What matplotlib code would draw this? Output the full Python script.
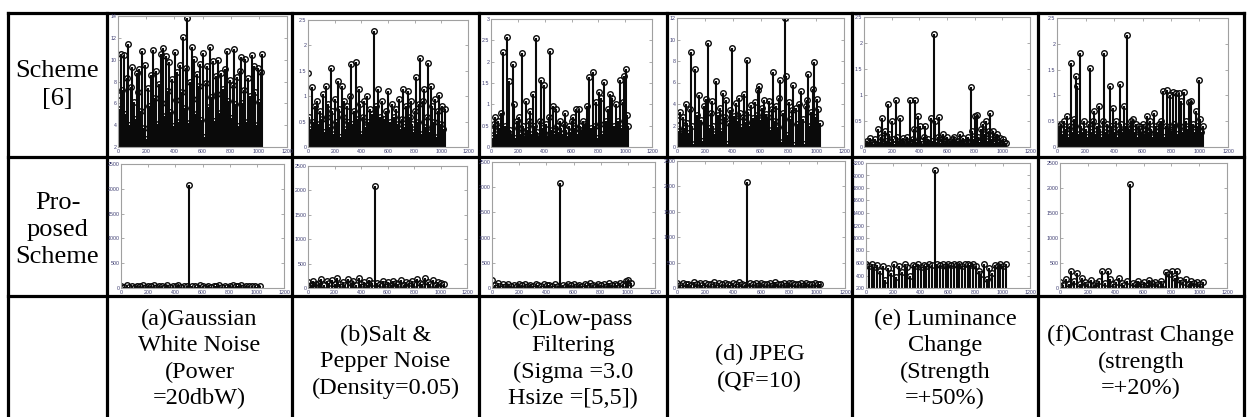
import numpy as np
import matplotlib.pyplot as plt
from matplotlib.ticker import FormatStrFormatter

# ---- data (values at ~103 / 52 evenly spaced sample indices, 1..1024) ----
scheme6_a = [6.8, 5.5, 10.5, 7.2, 10.4, 5.0, 8.3, 11.4, 4.0, 7.5,
             9.3, 6.1, 4.6, 8.8, 7.0, 9.1, 5.3, 10.8, 3.7, 9.5,
             2.7, 7.4, 5.8, 8.6, 4.4, 10.9, 6.5, 9.0, 4.1, 7.8,
             10.5, 6.0, 11.1, 4.8, 10.3, 7.1, 9.8, 5.2, 8.2, 3.9,
             10.7, 6.3, 8.9, 4.3, 9.5, 7.0, 12.1, 5.6, 9.2, 13.8,
             4.2, 8.0, 11.2, 6.4, 10.1, 5.0, 8.7, 7.6, 9.6, 4.5,
             10.6, 2.9, 7.9, 9.4, 5.7, 11.2, 6.6, 9.9, 4.4, 8.5,
             6.9, 10.0, 5.1, 8.8, 7.3, 4.0, 9.1, 10.8, 6.2, 8.1,
             4.7, 7.7, 11.0, 5.9, 8.4, 3.9, 9.0, 10.2, 6.0, 7.2,
             10.1, 4.3, 8.3, 6.7, 3.8, 10.4, 9.4, 7.0, 4.0, 9.2,
             6.1, 8.9, 10.5]
scheme6_b = [1.45, 0.6, 0.35, 1.18, 0.5, 0.8, 0.15, 0.9, 0.45, 0.7,
             0.55, 1.05, 0.3, 1.2, 0.6, 0.85, 0.4, 1.55, 0.7, 0.25,
             0.95, 0.5, 1.3, 0.75, 0.2, 1.2, 0.6, 0.9, 0.35, 0.8,
             0.5, 1.0, 1.63, 0.45, 0.7, 0.3, 1.68, 0.55, 1.15, 0.85,
             0.25, 0.6, 0.9, 0.4, 1.0, 0.5, 0.75, 0.3, 0.65, 2.28,
             0.45, 0.8, 1.15, 0.35, 0.6, 0.9, 0.25, 0.55, 0.7, 0.4,
             1.1, 0.5, 0.3, 0.85, 0.6, 0.2, 0.75, 0.45, 0.95, 0.35,
             0.55, 1.15, 0.4, 0.8, 0.25, 1.1, 0.6, 0.9, 0.45, 0.3,
             0.7, 1.38, 0.5, 0.85, 1.75, 0.25, 0.9, 1.15, 0.4, 0.6,
             1.65, 0.3, 1.2, 0.8, 0.5, 0.95, 0.2, 0.7, 1.03, 0.45,
             0.8, 0.35, 0.75]
scheme6_c = [0.4, 0.2, 0.55, 0.7, 0.3, 0.6, 0.45, 0.8, 0.25, 2.23,
             0.5, 0.35, 2.57, 1.55, 0.4, 0.3, 1.95, 1.0, 0.2, 0.6,
             0.45, 0.7, 0.3, 2.2, 0.5, 0.25, 1.07, 0.4, 0.6, 0.85,
             0.3, 1.25, 0.5, 2.55, 0.35, 0.25, 0.6, 1.57, 0.45, 1.45,
             0.3, 0.55, 0.25, 0.7, 2.25, 0.4, 0.97, 0.3, 0.9, 0.5,
             0.35, 0.6, 0.45, 0.3, 0.55, 0.8, 0.4, 0.25, 0.5, 0.35,
             0.6, 0.7, 0.45, 0.9, 0.3, 0.9, 0.5, 0.4, 0.6, 0.35,
             0.55, 0.95, 0.3, 1.63, 0.45, 0.25, 1.75, 0.5, 1.05, 0.2,
             1.3, 0.55, 1.15, 0.3, 1.53, 0.6, 0.25, 0.9, 1.25, 0.4,
             1.15, 0.5, 0.3, 1.0, 0.6, 0.25, 1.57, 0.45, 1.05, 1.67,
             1.83, 0.75, 0.5]
scheme6_d = [2.5, 1.5, 3.3, 1.2, 2.8, 1.8, 4.0, 2.2, 1.3, 3.5,
             8.8, 2.0, 0.3, 7.3, 3.0, 1.5, 4.8, 2.5, 0.6, 3.8,
             2.2, 4.5, 9.7, 1.8, 3.2, 4.3, 2.0, 1.2, 6.1, 3.0,
             2.4, 3.6, 1.5, 5.0, 2.8, 4.4, 0.3, 2.2, 3.4, 9.2,
             1.8, 2.9, 4.1, 2.4, 4.6, 3.2, 1.9, 2.8, 4.9, 2.3,
             8.1, 3.3, 2.0, 3.9, 2.7, 1.8, 4.2, 3.0, 5.3, 5.7,
             2.5, 3.6, 4.4, 2.2, 3.1, 2.8, 4.3, 1.6, 3.5, 7.0,
             2.4, 3.8, 1.9, 4.6, 6.2, 0.5, 3.2, 12.0, 6.6, 1.1,
             4.2, 2.6, 3.4, 5.8, 0.2, 3.6, 2.1, 4.0, 1.2, 5.2,
             2.6, 0.3, 3.8, 4.4, 6.8, 2.0, 3.3, 5.4, 7.9, 2.8,
             4.5, 3.5, 2.2]
scheme6_e = [0.08, 0.05, 0.12, 0.04, 0.18, 0.07, 0.1, 0.05, 0.15, 0.06,
             0.35, 0.1, 0.2, 0.55, 0.08, 0.3, 0.12, 0.82, 0.25, 0.1,
             0.5, 0.15, 0.06, 0.9, 0.2, 0.12, 0.55, 0.08, 0.18, 0.1,
             0.05, 0.2, 0.12, 0.9, 0.08, 0.15, 0.35, 0.9, 0.1, 0.6,
             0.4, 0.12, 0.06, 0.2, 0.4, 0.1, 0.15, 0.08, 0.55, 0.12,
             2.18, 0.5, 0.1, 0.2, 0.58, 0.08, 0.15, 0.25, 0.06, 0.12,
             0.2, 0.05, 0.1, 0.08, 0.15, 0.2, 0.06, 0.1, 0.12, 0.25,
             0.08, 0.18, 0.1, 0.05, 0.12, 0.2, 0.08, 1.15, 0.3, 0.15,
             0.6, 0.62, 0.2, 0.1, 0.35, 0.18, 0.45, 0.25, 0.5, 0.12,
             0.3, 0.65, 0.15, 0.3, 0.08, 0.2, 0.25, 0.1, 0.18, 0.06,
             0.15, 0.1, 0.08]
scheme6_f = [0.3, 0.4, 0.15, 0.45, 0.25, 0.5, 0.35, 0.6, 0.2, 0.4,
             1.62, 0.3, 0.55, 1.38, 1.18, 0.25, 1.83, 0.4, 0.3, 0.5,
             0.35, 0.2, 0.45, 1.53, 0.3, 0.5, 0.7, 0.25, 0.4, 0.8,
             0.35, 0.2, 0.5, 1.83, 0.3, 0.45, 0.25, 1.18, 0.4, 0.75,
             0.3, 0.5, 0.2, 0.35, 1.23, 0.45, 0.3, 0.8, 0.4, 2.18,
             0.35, 0.25, 0.5, 0.55, 0.3, 0.45, 0.2, 0.4, 0.35, 0.3,
             0.45, 0.25, 0.4, 0.6, 0.3, 0.5, 0.35, 0.2, 0.65, 0.4,
             0.3, 0.45, 0.25, 0.5, 1.08, 0.2, 0.4, 1.1, 0.35, 1.0,
             0.3, 1.07, 0.45, 1.05, 0.25, 1.05, 0.4, 0.9, 0.3, 1.07,
             0.5, 0.35, 0.88, 0.2, 0.9, 0.45, 0.3, 0.7, 0.4, 1.3,
             0.55, 0.3, 0.4]

proposed_a = [40, 25, 55, 30, 45, 20, 50, 35, 60, 28, 42, 33, 55, 25, 48, 38, 30, 52, 22, 45,
              35, 58, 27, 40, 50, 2080, 32, 46, 24, 55, 38, 30, 50, 26, 44, 36, 58, 29, 47, 22,
              40, 53, 31, 45, 60, 27, 38, 50, 33, 42, 25, 48]
proposed_b = [120, 60, 150, 80, 110, 180, 70, 140, 95, 160, 75, 200, 90, 130, 65, 185, 100, 145, 70, 195,
              85, 120, 60, 170, 95, 2080, 110, 75, 150, 90, 130, 65, 140, 100, 80, 160, 70, 120, 95, 150,
              85, 190, 110, 75, 215, 130, 90, 160, 70, 120, 100, 85]
proposed_c = [150, 60, 90, 40, 70, 35, 80, 45, 65, 30, 75, 50, 85, 40, 60, 35, 70, 55, 40, 80,
              50, 65, 35, 75, 45, 2080, 60, 40, 70, 55, 85, 45, 65, 35, 75, 50, 90, 60, 40, 80,
              55, 70, 45, 95, 60, 80, 50, 100, 70, 130, 160, 90]
proposed_d = [90, 60, 100, 70, 85, 55, 110, 75, 95, 65, 105, 80, 70, 115, 60, 90, 75, 100, 85, 65,
              95, 70, 110, 80, 60, 2080, 90, 75, 105, 65, 95, 80, 70, 100, 60, 110, 85, 75, 95, 65,
              90, 105, 70, 80, 100, 60, 95, 85, 70, 90, 75, 80]
proposed_e = [580, 560, 590, 540, 570, 480, 560, 330, 520, 440, 580, 380, 560, 450, 590, 530, 400, 570, 550, 585,
              540, 575, 560, 590, 565, 2080, 585, 570, 590, 560, 580, 575, 590, 565, 585, 550, 580, 590, 570, 585,
              560, 480, 420, 580, 350, 520, 440, 575, 560, 585, 550, 580]
proposed_f = [120, 60, 180, 90, 350, 150, 310, 80, 200, 120, 90, 160, 70, 110, 140, 340, 100, 350, 180, 90,
              130, 200, 100, 60, 150, 2080, 110, 80, 140, 90, 120, 70, 160, 100, 130, 80, 150, 90, 330, 280,
              350, 200, 340, 160, 120, 180, 90, 150, 110, 130, 80, 120]

row1_series = [scheme6_a, scheme6_b, scheme6_c, scheme6_d, scheme6_e, scheme6_f]
row1_ylims = [(2, 14, 2), (0, 2.5, 0.5), (0, 3, 0.5), (0, 12, 2), (0, 2.5, 0.5), (0, 2.5, 0.5)]
row2_series = [proposed_a, proposed_b, proposed_c, proposed_d, proposed_e, proposed_f]
row2_ylims = [(0, 2500, 500)] * 4 + [(200, 2200, 200), (0, 2500, 500)]

row_headers = ["Scheme\n[6]", "Pro-\nposed\nScheme"]
captions = ["(a)Gaussian\nWhite Noise\n(Power\n=20dbW)",
            "(b)Salt &\nPepper Noise\n(Density=0.05)",
            "(c)Low-pass\nFiltering\n(Sigma =3.0\nHsize =[5,5])",
            "(d) JPEG\n(QF=10)",
            "(e) Luminance\nChange\n(Strength\n=+50%)",
            "(f)Contrast Change\n(strength\n=+20%)"]

# ---- layout (pixels) ----
W, H = 1249, 417
col_lines = [8, 107, 292, 479, 667, 852, 1038, 1244]
row_lines = [13, 157, 296]
row1_axes = [(118, 16, 287), (308, 20, 468), (491, 19, 652), (677, 18, 844), (864, 17, 1030), (1057, 18, 1228)]
row1_bottom = 147
row2_axes = [(121, 164, 284), (308, 166, 467), (492, 162, 655), (677, 161, 845), (866, 163, 1030), (1060, 163, 1227)]
row2_bottom = 288
caption_y = [359, 362, 359, 368, 359, 362]

plt.rcParams['font.family'] = ['Liberation Serif', 'DejaVu Serif']

fig = plt.figure(figsize=(W / 100, H / 100), dpi=100)

grid = fig.add_axes([0, 0, 1, 1])
grid.set_xlim(0, W)
grid.set_ylim(H, 0)
grid.axis("off")
for x in col_lines:
    grid.plot([x, x], [row_lines[0], H], color="black", lw=2.3, solid_capstyle="projecting")
for y in row_lines:
    grid.plot([col_lines[0], col_lines[-1]], [y, y], color="black", lw=2.3, solid_capstyle="projecting")

cx0 = (col_lines[0] + col_lines[1]) / 2
grid.text(cx0, 85, row_headers[0], ha="center", va="center", fontsize=19, linespacing=1.32)
grid.text(cx0, 230, row_headers[1], ha="center", va="center", fontsize=19, linespacing=1.3)
for i, cap in enumerate(captions):
    cx = (col_lines[i + 1] + col_lines[i + 2]) / 2
    grid.text(cx, caption_y[i], cap, ha="center", va="center", fontsize=17.5, linespacing=1.33)


def stem_panel(box, bottom, vals, ylim):
    l, t, r = box
    ax = fig.add_axes([l / W, 1 - bottom / H, (r - l) / W, (bottom - t) / H])
    x = np.linspace(1, 1024, len(vals))
    ax.vlines(x, 0, vals, color="#0a0a0a", lw=1.5)
    ax.plot(x, vals, "o", ms=4, mfc="none", mec="#0a0a0a", mew=1.0)
    lo, hi, step = ylim
    ax.set_ylim(lo, hi)
    ax.set_yticks(np.arange(lo, hi + step / 2, step))
    ax.set_xlim(0, 1200)
    ax.set_xticks(range(0, 1201, 200))
    ax.yaxis.set_major_formatter(FormatStrFormatter("%g"))
    ax.tick_params(direction="in", length=2, width=0.5, colors="#8a8a8a", labelcolor="#3c3c70",
                   labelsize=3.8, top=True, right=True, pad=1.2)
    for lab in ax.get_xticklabels() + ax.get_yticklabels():
        lab.set_family("Liberation Sans")
    for sp in ax.spines.values():
        sp.set_color("#a0a0a0")
        sp.set_linewidth(0.8)
    return ax


for box, vals, yl in zip(row1_axes, row1_series, row1_ylims):
    stem_panel(box, row1_bottom, vals, yl)
for box, vals, yl in zip(row2_axes, row2_series, row2_ylims):
    stem_panel(box, row2_bottom, vals, yl)

fig.savefig("out.png", dpi=100)
